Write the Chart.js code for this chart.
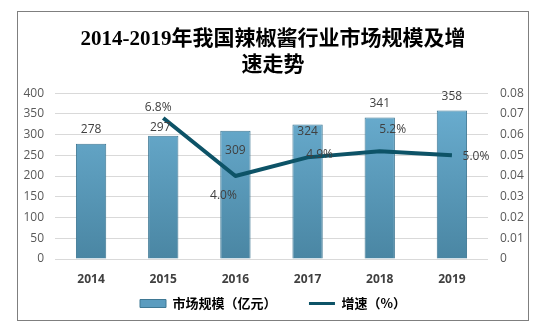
<!DOCTYPE html>
<html>
<head>
<meta charset="utf-8">
<script src="https://cdn.jsdelivr.net/npm/chart.js@4.4.0/dist/chart.umd.min.js"></script>
<style>
  html, body { margin: 0; padding: 0; background: #fff; }
  #frame {
    position: absolute; left: 17px; top: 11px;
    width: 510px; height: 308px;
    border: 1px solid #7f7f7f;
  }
</style>
</head>
<body>
<div id="frame"><canvas id="chart1"></canvas></div>
<script>
"use strict";

var years = ['2014', '2015', '2016', '2017', '2018', '2019'];
var marketSize = [278, 297, 309, 324, 341, 358];
var growthRate = [null, 0.068, 0.040, 0.049, 0.052, 0.050];
var growthText = ['', '6.8%', '4.0%', '4.9%', '5.2%', '5.0%'];

// label nudges (px) so the numbers sit where the original has them
var barLabelShift = [[0, -14], [-3, -8], [0, 20], [0, 7], [0, -14], [0, -14]];
var lineLabelShift = [[0, 0], [-5, -10], [-12, 20], [12, -3], [13, -22], [24, 1]];

var labelFont = "12px 'Open Sans', 'Noto Sans CJK SC', sans-serif";

function barFill(context) {
  var chart = context.chart;
  var area = chart.chartArea;
  if (!area) return '#5b9cbf';
  var g = chart.ctx.createLinearGradient(0, area.top, 0, area.bottom);
  g.addColorStop(0, '#6cb0d3');
  g.addColorStop(1, '#4a86a3');
  return g;
}

var valueLabels = {
  id: 'valueLabels',
  afterDatasetsDraw: function(chart) {
    var ctx = chart.ctx;
    ctx.save();
    ctx.font = labelFont;
    ctx.fillStyle = '#404040';
    ctx.textAlign = 'center';
    ctx.textBaseline = 'middle';
    chart.getDatasetMeta(0).data.forEach(function(bar, i) {
      ctx.fillText(String(marketSize[i]), bar.x + barLabelShift[i][0], bar.y + barLabelShift[i][1]);
    });
    chart.getDatasetMeta(1).data.forEach(function(pt, i) {
      if (growthRate[i] === null) return;
      ctx.fillText(growthText[i], pt.x + lineLabelShift[i][0], pt.y + lineLabelShift[i][1]);
    });
    ctx.restore();
  }
};

var ctx = document.getElementById('chart1').getContext('2d');
var myChart = new Chart(ctx, {
  type: 'bar',
  data: {
    labels: years,
    datasets: [{
      label: '市场规模（亿元）',
      data: marketSize,
      yAxisID: 'y',
      backgroundColor: barFill,
      borderColor: '#3f7894',
      borderWidth: 1,
      barPercentage: 0.42,
      categoryPercentage: 1,
      order: 1
    }, {
      type: 'line',
      label: '增速（%）',
      data: growthRate,
      yAxisID: 'y1',
      borderColor: '#0d5367',
      backgroundColor: '#0d5367',
      borderWidth: 4,
      borderJoinStyle: 'round',
      pointRadius: 0,
      tension: 0,
      order: 0
    }]
  },
  plugins: [valueLabels],
  options: {
    responsive: true,
    maintainAspectRatio: false,
    animation: false,
    layout: { padding: 0 },
    plugins: {
      title: {
        display: true,
        text: ['2014-2019年我国辣椒酱行业市场规模及增', '速走势'],
        font: { family: "'Liberation Serif', 'Noto Sans CJK SC', serif", size: 21, weight: 'bold', lineHeight: 1.24 },
        color: '#000',
        padding: { top: 15, bottom: 14 }
      },
      legend: {
        position: 'bottom',
        labels: {
          usePointStyle: true,
          pointStyleWidth: 26,
          boxHeight: 8,
          padding: 10,
          color: '#000',
          font: { family: "'Noto Sans CJK SC', sans-serif", size: 13, weight: 'bold' },
          sort: function(a, b) { return a.datasetIndex - b.datasetIndex; },
          generateLabels: function(chart) {
            var items = Chart.defaults.plugins.legend.labels.generateLabels(chart);
            items.forEach(function(it) {
              if (it.datasetIndex === 0) {
                it.text = it.text + '\u3000\u3000 ';
                it.pointStyle = 'rect';
                it.fillStyle = '#5b9cbf';
                it.strokeStyle = '#3f7894';
                it.lineWidth = 1;
              } else {
                it.pointStyle = 'line';
                it.strokeStyle = '#0d5367';
                it.lineWidth = 3;
              }
            });
            return items;
          }
        }
      },
      tooltip: { enabled: false }
    },
    scales: {
      x: {
        afterFit: function(scale) { scale.height = 28; },
        grid: { display: false },
        border: { display: false },
        ticks: {
          color: '#404040',
          padding: 5,
          font: { family: "'Open Sans', sans-serif", size: 12, weight: 'bold' }
        }
      },
      y: {
        position: 'left',
        min: 0,
        max: 400,
        afterFit: function(scale) { scale.width = 37; },
        border: { display: false },
        grid: { color: '#d9d9d9', drawTicks: false },
        ticks: {
          stepSize: 50,
          padding: 11,
          color: '#595959',
          font: { family: "'Open Sans', sans-serif", size: 12 }
        }
      },
      y1: {
        position: 'right',
        min: 0,
        max: 0.08,
        afterFit: function(scale) { scale.width = 40; },
        border: { display: false },
        grid: { display: false, drawTicks: false },
        ticks: {
          stepSize: 0.01,
          padding: 12,
          color: '#595959',
          font: { family: "'Open Sans', sans-serif", size: 12 },
          callback: function(v) { return v === 0 ? '0' : v.toFixed(2); }
        }
      }
    }
  }
});
</script>
</body>
</html>
